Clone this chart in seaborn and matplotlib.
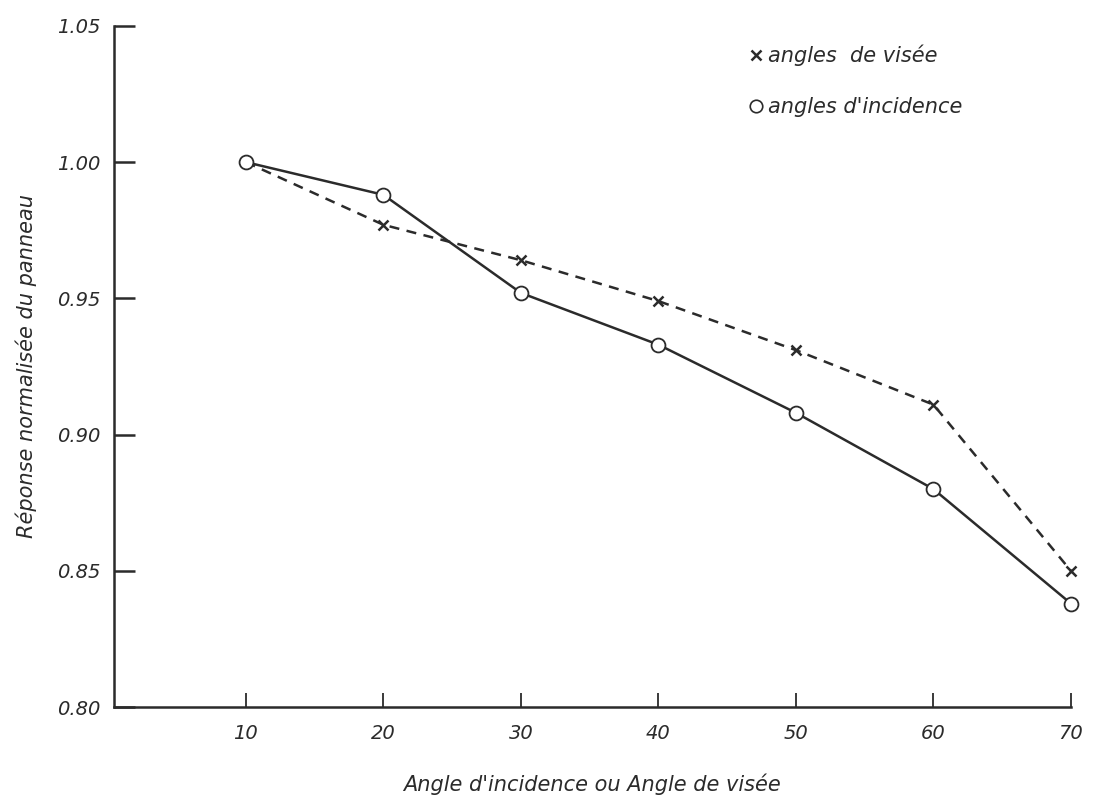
import matplotlib
matplotlib.use("Agg")
import matplotlib.pyplot as plt
import seaborn as sns
import pandas as pd
from matplotlib.lines import Line2D

angles = [10, 20, 30, 40, 50, 60, 70]
visee = [1.000, 0.977, 0.964, 0.949, 0.931, 0.911, 0.850]
incidence = [1.000, 0.988, 0.952, 0.933, 0.908, 0.880, 0.838]
yticks = [0.80, 0.85, 0.90, 0.95, 1.00, 1.05]
ytick_labels = ["0.80", "0.85", "0.90", "0.95", "1.00", "1.05"]

sns.set_style("white")
plt.rcParams['font.family'] = ['DejaVu Sans']
plt.rcParams['font.style'] = 'italic'

ink = "#2b2b2b"
fig = plt.figure(figsize=(10.95, 8.09), dpi=100)
ax = fig.add_axes([0.104, 0.126, 0.874, 0.842])

df_v = pd.DataFrame({"angle": angles, "resp": visee})
df_i = pd.DataFrame({"angle": angles, "resp": incidence})

sns.lineplot(data=df_v, x="angle", y="resp", ax=ax, color=ink, lw=1.8,
             linestyle=(0, (4, 3)), marker="x", markersize=7, markeredgewidth=1.8,
             markeredgecolor=ink, clip_on=False)
sns.lineplot(data=df_i, x="angle", y="resp", ax=ax, color=ink, lw=1.8,
             marker="o", markersize=10, markerfacecolor="white",
             markeredgecolor=ink, markeredgewidth=1.3, clip_on=False)

ax.set_xlim(0.4, 70)
ax.set_ylim(0.80, 1.05)
ax.set_xticks(angles)
ax.set_xticklabels([str(a) for a in angles], fontsize=14, style="italic")
ax.set_yticks(yticks)
ax.set_yticklabels(ytick_labels, fontsize=14, style="italic")

for s in ["top", "right"]:
    ax.spines[s].set_visible(False)
for s in ["left", "bottom"]:
    ax.spines[s].set_color(ink)
    ax.spines[s].set_linewidth(1.8)

ax.tick_params(axis="y", left=True, direction="in", length=15, width=1.8, color=ink, pad=10, labelcolor=ink)
ax.tick_params(axis="x", bottom=True, direction="in", length=10, width=1.3, color=ink, pad=12, labelcolor=ink)

ax.set_xlabel("Angle d'incidence ou Angle de visée", fontsize=15, style="italic",
              labelpad=22, color=ink)
ax.set_ylabel("Réponse normalisée du panneau", fontsize=15, style="italic",
              labelpad=14, color=ink)

handles = [Line2D([], [], color=ink, marker="x", linestyle="none", markersize=7, markeredgewidth=1.8),
           Line2D([], [], color=ink, marker="o", linestyle="none", markersize=9,
                  markerfacecolor="white", markeredgewidth=1.2)]
leg = ax.legend(handles, ["angles  de visée", "angles d'incidence"], loc="upper left",
                bbox_to_anchor=(0.64, 1.0), frameon=False,
                handletextpad=0.1, handlelength=1.0, labelspacing=1.5,
                prop={"style": "italic", "size": 15})
for t in leg.get_texts():
    t.set_color(ink)

fig.savefig("out.png", dpi=100, facecolor="white")
